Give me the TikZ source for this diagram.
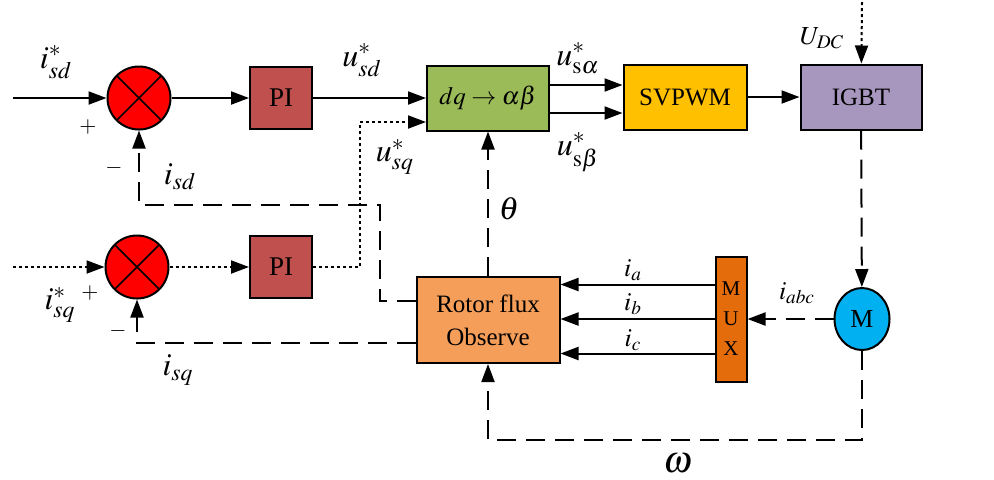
\documentclass[tikz,border=0pt]{standalone}
\usepackage{mathptmx}
\usepackage{fontspec}
\setmainfont{Liberation Serif}
\usetikzlibrary{positioning,arrows.meta,shapes.geometric}
\definecolor{Rojo}{HTML}{FF0000}
\definecolor{Ladrillo}{HTML}{C0504D}
\definecolor{Oliva}{HTML}{9BBB59}
\definecolor{Ambar}{HTML}{FFC000}
\definecolor{Lila}{HTML}{A797BF}
\definecolor{Salmon}{HTML}{F59E5A}
\definecolor{Naranja}{HTML}{E46C0A}
\definecolor{Cielo}{HTML}{00B0F0}
\tikzset{
  flecha/.style={-{Triangle[length=9pt,width=6.5pt]},line width=1pt},
  rayado/.style={dash pattern=on 9.5pt off 5pt},
  punteado/.style={dash pattern=on 1.5pt off 1.5pt},
  bloque/.style={draw,line width=1pt,inner sep=0pt,font=\fontsize{12.5}{15}\selectfont},
  sumador/.style={circle,draw,line width=1pt,fill=Rojo,minimum size=31.5pt,inner sep=0pt,
    path picture={\draw[line width=0.8pt] (path picture bounding box.north west) -- (path picture bounding box.south east)
      (path picture bounding box.south west) -- (path picture bounding box.north east);}},
  senal/.style={inner sep=0pt,font=\fontsize{16}{19}\selectfont},
  senalp/.style={inner sep=0pt,font=\fontsize{13}{15}\selectfont},
  signo/.style={inner sep=0pt,font=\fontsize{11}{13}\selectfont}
}

\begin{document}
\begin{tikzpicture}[x=0.5pt,y=-0.5pt]
  \useasboundingbox (0,0) rectangle (994,479);
  % bloques
  \node[sumador] (sumd) at (139,98) {};
  \node[sumador] (sumq) at (137,267) {};
  \node[bloque,fill=Ladrillo,minimum width=31pt,minimum height=31pt,font=\fontsize{13.5}{15}\selectfont] (pid) at (281,98) {PI};
  \node[bloque,fill=Ladrillo,minimum width=31pt,minimum height=31pt,font=\fontsize{13.5}{15}\selectfont] (piq) at (281,267) {PI};
  \node[bloque,fill=Oliva,minimum width=61pt,minimum height=32.5pt] (dq) at (488,98) {$dq\rightarrow\alpha\beta$};
  \node[bloque,fill=Ambar,minimum width=61.5pt,minimum height=32.5pt] (svpwm) at (685,97) {SVPWM};
  \node[bloque,fill=Lila,minimum width=60.5pt,minimum height=32.5pt] (igbt) at (861,97) {IGBT};
  \node[bloque,fill=Salmon,minimum width=71.5pt,minimum height=43pt,align=center] (rotor) at (488,320) {Rotor flux\\[1.5pt]Observe};
  \node[bloque,fill=Naranja,minimum width=15.5pt,minimum height=62.5pt,align=center,font=\fontsize{10.5}{15}\selectfont] (mux) at (731,319) {M\\U\\X};
  \node[bloque,ellipse,fill=Cielo,minimum width=27.5pt,minimum height=31pt,font=\fontsize{13}{15}\selectfont] (motor) at (862,319) {M};
  % puntos de paso
  \coordinate (ind) at (13,98);
  \coordinate (inq) at (13,267);
  \coordinate (cq) at (360,122);
  \coordinate (cd) at (380,205);
  \coordinate (udc) at (862,2);
  \coordinate (w) at (862,440);
  % eje d
  \draw[flecha] (ind) -- (sumd);
  \draw[flecha] (sumd) -- (pid);
  \draw[flecha] (pid) -- (dq);
  \draw[flecha,rayado] ([yshift=9.5pt]rotor.west) -| (cd) -| (sumd.south);
  % eje q
  \draw[flecha,punteado] (inq) -- (sumq);
  \draw[flecha,punteado] (sumq) -- (piq);
  \draw[flecha,punteado] (piq) -| (cq) -- ([yshift=-12pt]dq.west);
  \draw[flecha,rayado] ([yshift=-11.5pt]rotor.west) -| (sumq.south);
  % modulacion y motor
  \foreach \d in {6.5,-7.5} {\draw[flecha] ([yshift=\d pt]dq.east) -- ([yshift=\d pt]dq.east -| svpwm.west);}
  \draw[flecha] (svpwm) -- (igbt);
  \draw[flecha,punteado] (udc) -- (igbt);
  \draw[flecha,rayado] (igbt) -- (motor);
  \draw[flecha,rayado] (motor) -- (mux);
  \foreach \d/\s in {17.25/a,0/b,-17.25/c} {\draw[flecha] ([yshift=\d pt]mux.west) -- ([yshift=\d pt]mux.west -| rotor.east);}
  \draw[flecha,rayado] (rotor) -- (dq);
  \draw[flecha,rayado] (motor) -- (w) -| (rotor);
  % etiquetas
  \node[senal] (lisdr) at (56,62) {$i_{sd}^{*}$};
  \node[senal] (lisqr) at (60,305) {$i_{sq}^{*}$};
  \node[senal] (lisd) at (180,177) {$i_{sd}$};
  \node[senal] (lisq) at (178,370) {$i_{sq}$};
  \node[senal] (lusd) at (362,60) {$u_{sd}^{*}$};
  \node[senal] (lusq) at (395,157) {$u_{sq}^{*}$};
  \node[senal] (lusa) at (578,58) {$u_{\mathrm{s}\alpha}^{*}$};
  \node[senal] (lusb) at (578,152) {$u_{\mathrm{s}\beta}^{*}$};
  \node[senal] (lth) at (509,209) {$\theta$};
  \node[senal,font=\fontsize{19}{21}\selectfont] (lw) at (678,463) {$\omega$};
  \node[senalp] (ludc) at (822,38) {$U_{DC}$};
  \node[senalp] (lia) at (633,270) {$i_{a}$};
  \node[senalp] (lib) at (633,304) {$i_{b}$};
  \node[senalp] (lic) at (633,340) {$i_{c}$};
  \node[senalp] (liabc) at (797,293) {$i_{abc}$};
  \node[signo] (pd) at (88,127) {$+$};
  \node[signo] (md) at (114,168) {$-$};
  \node[signo] (pq) at (90,293) {$+$};
  \node[signo] (mq) at (118,331) {$-$};
\end{tikzpicture}
\end{document}
